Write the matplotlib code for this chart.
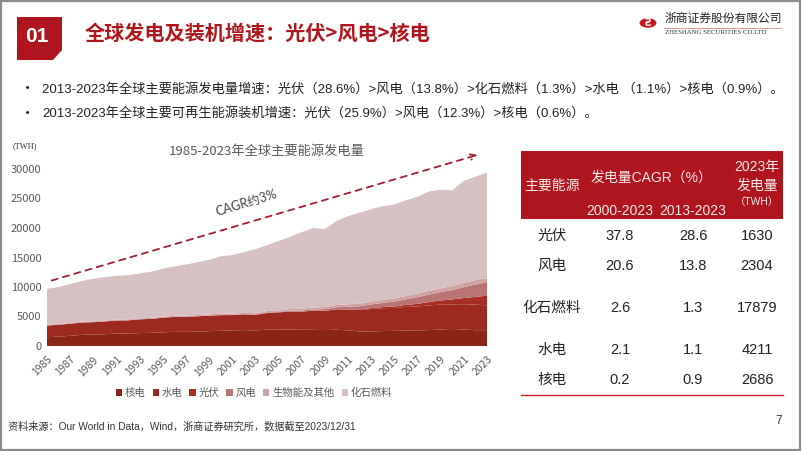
import matplotlib
matplotlib.use("Agg")
import matplotlib.pyplot as plt
from matplotlib.patches import Rectangle, Polygon, Circle
import numpy as np

plt.rcParams['font.family'] = ['Noto Sans CJK SC', 'DejaVu Sans']
MIX = ['Liberation Sans', 'Noto Sans CJK SC', 'DejaVu Sans']

# ---------------- data ----------------
years = list(range(1985, 2024))
nuclear = [1490, 1590, 1730, 1890, 1940, 2000, 2100, 2120, 2190, 2230,
           2320, 2400, 2390, 2430, 2520, 2580, 2650, 2700, 2640, 2770,
           2770, 2800, 2750, 2740, 2700, 2760, 2650, 2460, 2480, 2530,
           2570, 2610, 2640, 2700, 2790, 2690, 2800, 2680, 2686]
hydro = [1980, 2010, 2040, 2090, 2100, 2160, 2220, 2220, 2330, 2360,
         2480, 2530, 2580, 2600, 2620, 2650, 2590, 2640, 2640, 2810,
         2920, 3030, 3080, 3230, 3250, 3430, 3490, 3660, 3790, 3880,
         3880, 4020, 4060, 4180, 4230, 4350, 4290, 4330, 4211]
solar = [0, 0, 0, 0, 0, 0, 0, 0, 0, 0,
         0, 0, 0, 0, 0, 1, 1, 2, 2, 3,
         4, 6, 8, 12, 20, 32, 63, 97, 134, 190,
         256, 329, 445, 570, 700, 850, 1040, 1310, 1630]
wind = [0, 0, 0, 1, 2, 4, 4, 5, 6, 7,
        8, 9, 12, 16, 21, 31, 38, 52, 63, 85,
        104, 133, 171, 220, 276, 342, 437, 523, 635, 706,
        831, 958, 1135, 1270, 1420, 1590, 1850, 2100, 2304]
bio_other = [120, 125, 130, 135, 140, 145, 150, 155, 160, 165,
             170, 175, 180, 185, 190, 200, 205, 215, 225, 250,
             270, 290, 310, 330, 350, 390, 420, 450, 480, 510,
             540, 570, 600, 630, 660, 690, 720, 750, 690]
fossil = [6110, 6275, 6600, 6884, 7218, 7391, 7426, 7500, 7614, 7838,
          8122, 8386, 8638, 8969, 9249, 9739, 9916, 10291, 10830, 11182,
          11732, 12241, 12981, 13468, 13204, 14246, 14940, 15410, 15681, 15884,
          15923, 16213, 16420, 16850, 16700, 16230, 17300, 17530, 17879]

series_names = ['核电', '水电', '光伏', '风电', '生物能及其他', '化石燃料']
series_colors = ['#8A2419', '#9C2A1F', '#A82D22', '#B97474', '#CDA3A4', '#D7C0C1']

table_sources = ['光伏', '风电', '化石燃料', '水电', '核电']
cagr_2000_2023 = ['37.8', '20.6', '2.6', '2.1', '0.2']
cagr_2013_2023 = ['28.6', '13.8', '1.3', '1.1', '0.9']
gen_2023 = ['1630', '2304', '17879', '4211', '2686']

xticks = list(range(1985, 2024, 2))
yticks = [0, 5000, 10000, 15000, 20000, 25000, 30000]

# ---------------- figure ----------------
W, H = 802, 451
fig = plt.figure(figsize=(W / 100, H / 100), dpi=100)
fig.patch.set_facecolor('white')

def fx(px):
    return px / W

def fy(py):
    return 1 - py / H

# border
fig.add_artist(Rectangle((0.001, 0.002), 0.997, 0.995, transform=fig.transFigure,
                         fill=False, edgecolor='#8C8C8C', lw=1.6))

red = '#B0141C'
# "01" box with cut corner
box = Polygon([(fx(17), fy(17)), (fx(62), fy(17)), (fx(62), fy(50)),
               (fx(53), fy(60)), (fx(17), fy(60))], closed=True,
              transform=fig.transFigure, facecolor=red, edgecolor='none')
fig.add_artist(box)
fig.text(fx(37), fy(36), '01', color='white', fontsize=15, fontweight='bold',
         ha='center', va='center', family=['Liberation Sans', 'DejaVu Sans'])
fig.text(fx(85), fy(33), '全球发电及装机增速：光伏>风电>核电', color=red,
         fontsize=14.5, fontweight='bold', ha='left', va='center')

# logo
fig.add_artist(Circle((fx(648), fy(23)), 0.0105, transform=fig.transFigure,
                      facecolor='#C8161D', edgecolor='none'))
fig.text(fx(648), fy(23), 'Ƨ', color='white', fontsize=7, ha='center', va='center',
         fontweight='bold')
fig.text(fx(665), fy(18), '浙商证券股份有限公司', color='#222222', fontsize=8.5,
         ha='left', va='center')
fig.add_artist(plt.Line2D([fx(664), fx(781)], [fy(28), fy(28)], transform=fig.transFigure,
                          color='#E08A8A', lw=0.6))
fig.text(fx(665), fy(33), 'ZHESHANG SECURITIES CO.LTD', color='#333333', fontsize=4.9,
         ha='left', va='center', family=['Liberation Serif', 'DejaVu Serif'])

# bullets
bul1 = '2013-2023年全球主要能源发电量增速：光伏（28.6%）>风电（13.8%）>化石燃料（1.3%）>水电 （1.1%）>核电（0.9%）。'
bul2 = '2013-2023年全球主要可再生能源装机增速：光伏（25.9%）>风电（12.3%）>核电（0.6%）。'
for yy, t in [(89, bul1), (113, bul2)]:
    fig.text(fx(20), fy(yy), '•', color='#222222', fontsize=11, ha='left', va='center')
    fig.text(fx(42), fy(yy), t, color='#222222', fontsize=9.5, ha='left', va='center',
             family=MIX)

# ---------------- area chart ----------------
ax = fig.add_axes([fx(47), fy(346), fx(487) - fx(47), fy(169) - fy(346)])
ax.stackplot(years, nuclear, hydro, solar, wind, bio_other, fossil,
             colors=series_colors, labels=series_names, linewidth=0)
ax.set_xlim(1985, 2023)
ax.set_ylim(0, 30000)
for s in ax.spines.values():
    s.set_visible(False)
ax.set_yticks(yticks)
ax.set_yticklabels([str(v) for v in yticks], fontsize=8, color='#595959')
ax.set_xticks(xticks)
ax.set_xticklabels([str(v) for v in xticks], fontsize=7.5, color='#595959',
                   rotation=45, ha='right', rotation_mode='anchor')
ax.tick_params(length=0, pad=4)
ax.tick_params(axis='x', pad=6)
ax.set_facecolor('none')

leg = ax.legend(loc='upper center', bbox_to_anchor=(0.47, -0.185), ncol=6, frameon=False,
                fontsize=7.5, handlelength=0.6, handleheight=0.6, handletextpad=0.25,
                columnspacing=0.7, labelcolor='#595959')

ax.set_title('1985-2023年全球主要能源发电量', fontsize=9.5, color='#595959', pad=10)
fig.text(fx(13), fy(146), '(TWH)', fontsize=6, color='#333333', ha='left', va='center',
         family=['Liberation Serif', 'DejaVu Serif'])

# dashed CAGR arrow
ax.annotate('', xy=(2022.2, 32400), xytext=(1985.4, 11100),
            arrowprops=dict(arrowstyle='->', color='#A31F34', lw=1.3,
                            linestyle=(0, (3.5, 3)), shrinkA=0, shrinkB=0),
            annotation_clip=False)
ax.text(2002.2, 24300, 'CAGR约3%', rotation=17, fontsize=9, color='#404040',
        ha='center', va='center', family=['Lato', 'Noto Sans CJK SC'])

# ---------------- table ----------------
fig.add_artist(Rectangle((fx(521), fy(219)), fx(783) - fx(521), fy(151) - fy(219),
                         transform=fig.transFigure, facecolor=red, edgecolor='none'))
hc = '#F6EAEA'
fig.text(fx(552), fy(186), '主要能源', color=hc, fontsize=10, ha='center', va='center')
fig.text(fx(652), fy(178), '发电量CAGR（%）', color=hc, fontsize=10, ha='center', va='center',
         family=MIX)
fig.text(fx(620), fy(211), '2000-2023', color=hc, fontsize=10, ha='center', va='center',
         family=MIX)
fig.text(fx(693), fy(211), '2013-2023', color=hc, fontsize=10, ha='center', va='center',
         family=MIX)
fig.text(fx(757), fy(167), '2023年', color=hc, fontsize=10, ha='center', va='center',
         family=MIX)
fig.text(fx(757), fy(186), '发电量', color=hc, fontsize=10, ha='center', va='center')
fig.text(fx(757), fy(202), '（TWH）', color=hc, fontsize=7.5, ha='center', va='center',
         family=MIX)

row_y = [236, 266, 308, 350, 380]
for yy, nm, a, b, c in zip(row_y, table_sources, cagr_2000_2023, cagr_2013_2023, gen_2023):
    fig.text(fx(552), fy(yy), nm, color='#222222', fontsize=10.5, ha='center', va='center')
    for xx, v in [(620, a), (693, b), (757, c)]:
        fig.text(fx(xx), fy(yy), v, color='#222222', fontsize=10.5, ha='center', va='center',
                 family=MIX)
fig.add_artist(plt.Line2D([fx(521), fx(783)], [fy(395), fy(395)], transform=fig.transFigure,
                          color='#D0202A', lw=1.0))

# footer
fig.text(fx(8), fy(427), '资料来源：Our World in Data，Wind，浙商证券研究所，数据截至2023/12/31',
         fontsize=7.3, color='#333333', ha='left', va='center', family=MIX)
fig.text(fx(779), fy(421), '7', fontsize=8.5, color='#333333', ha='center', va='center',
         family=MIX)

fig.savefig('out.png', dpi=100, facecolor='white')
